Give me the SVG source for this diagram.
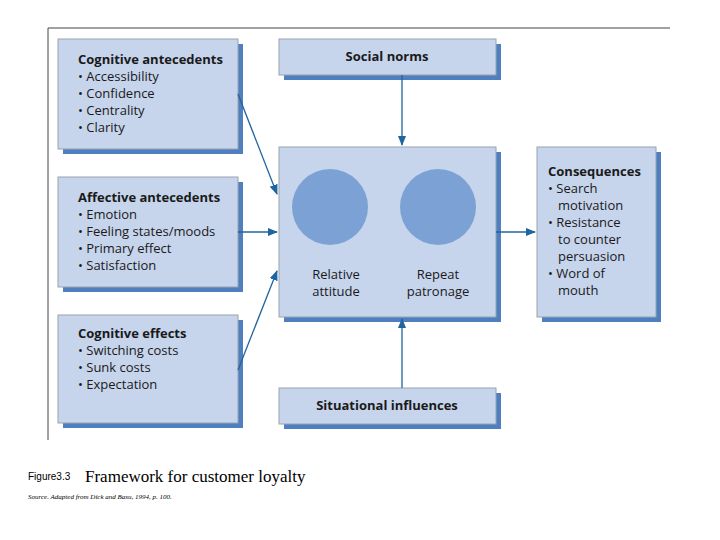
<svg xmlns="http://www.w3.org/2000/svg" width="720" height="540" viewBox="0 0 720 540">
<style>
.sh{fill:#4f7fbf}
.bx{fill:#c6d4ec;stroke:#9aa3ae;stroke-width:1}
.t{font-family:"Open Sans","DejaVu Sans",sans-serif;font-size:13px;fill:#1a1a1a}
.b{font-weight:bold}
.c{fill:#7ca1d5}
.ar{stroke:#1f65a0;stroke-width:1.3;fill:none;marker-end:url(#ah)}
</style>
<defs><marker id="ah" viewBox="0 0 10 10" refX="9" refY="5" markerWidth="8" markerHeight="8" orient="auto"><path d="M0,1 L10,5 L0,9 Z" fill="#1f65a0"/></marker></defs>
<rect width="720" height="540" fill="#fff"/>
<path d="M48,440 V28 H670" fill="none" stroke="#444" stroke-width="1"/>
<g id="cog"><rect class="sh" x="63" y="44" width="180" height="110"/><rect class="bx" x="58" y="39" width="180" height="110"/>
<text class="t" x="78" y="64"><tspan class="b">Cognitive antecedents</tspan><tspan x="78" dy="17">• Accessibility</tspan><tspan x="78" dy="17">• Confidence</tspan><tspan x="78" dy="17">• Centrality</tspan><tspan x="78" dy="17">• Clarity</tspan></text></g>
<g id="aff"><rect class="sh" x="63" y="182" width="180" height="110"/><rect class="bx" x="58" y="177" width="180" height="110"/>
<text class="t" x="78" y="202"><tspan class="b">Affective antecedents</tspan><tspan x="78" dy="17">• Emotion</tspan><tspan x="78" dy="17">• Feeling states/moods</tspan><tspan x="78" dy="17">• Primary effect</tspan><tspan x="78" dy="17">• Satisfaction</tspan></text></g>
<g id="cogeff"><rect class="sh" x="63" y="320" width="180" height="108"/><rect class="bx" x="58" y="315" width="180" height="108"/>
<text class="t" x="78" y="338"><tspan class="b">Cognitive effects</tspan><tspan x="78" dy="17">• Switching costs</tspan><tspan x="78" dy="17">• Sunk costs</tspan><tspan x="78" dy="17">• Expectation</tspan></text></g>
<g id="social"><rect class="sh" x="284" y="44" width="217" height="36"/><rect class="bx" x="279" y="39" width="217" height="36"/>
<text class="t b" x="387" y="61" text-anchor="middle">Social norms</text></g>
<g id="center"><rect class="sh" x="284" y="152" width="217" height="170"/><rect class="bx" x="279" y="147" width="217" height="170"/>
<circle class="c" cx="330" cy="207" r="38"/><circle class="c" cx="438" cy="207" r="38"/>
<text class="t" x="336" y="279" text-anchor="middle">Relative<tspan x="336" dy="17">attitude</tspan></text>
<text class="t" x="438" y="279" text-anchor="middle">Repeat<tspan x="438" dy="17">patronage</tspan></text></g>
<g id="situ"><rect class="sh" x="284" y="393" width="217" height="36"/><rect class="bx" x="279" y="388" width="217" height="36"/>
<text class="t b" x="387" y="410" text-anchor="middle">Situational influences</text></g>
<g id="cons"><rect class="sh" x="542" y="152" width="119" height="170"/><rect class="bx" x="537" y="147" width="119" height="170"/>
<text class="t" x="548" y="176"><tspan class="b">Consequences</tspan><tspan x="548" dy="17">• Search</tspan><tspan x="558" dy="17">motivation</tspan><tspan x="548" dy="17">• Resistance</tspan><tspan x="558" dy="17">to counter</tspan><tspan x="558" dy="17">persuasion</tspan><tspan x="548" dy="17">• Word of</tspan><tspan x="558" dy="17">mouth</tspan></text></g>
<g id="connectors">
<path class="ar" d="M238,94 L277,194"/>
<path class="ar" d="M238,232 H277"/>
<path class="ar" d="M238,370 L277,271"/>
<path class="ar" d="M402,75 V145"/>
<path class="ar" d="M402,388 V319"/>
<path class="ar" d="M496,232 H535"/>
</g>
<text x="28" y="480" font-family="'Liberation Sans',sans-serif" font-size="10">Figure3.3</text>
<text x="85" y="482" font-family="'Liberation Serif',serif" font-size="17">Framework for customer loyalty</text>
<text x="28" y="499" font-family="'Liberation Serif',serif" font-size="7" font-style="italic">Source. Adapted from Dick and Basu, 1994, p. 100.</text>
</svg>
